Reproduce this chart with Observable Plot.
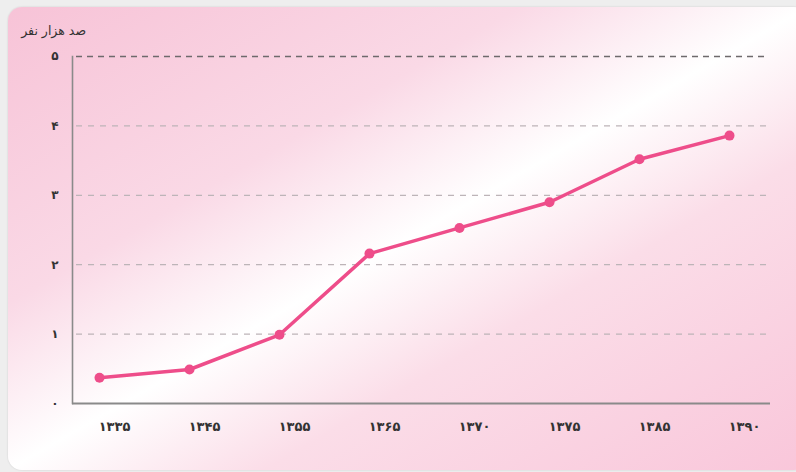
<!DOCTYPE html>
<html>
<head>
<meta charset="utf-8">
<script src="https://cdn.jsdelivr.net/npm/d3@7"></script>
<script src="https://cdn.jsdelivr.net/npm/@observablehq/plot@0.6"></script>
<style>
  html, body { margin: 0; padding: 0; background: #eeeeee; }
  #wrap { position: relative; width: 796px; height: 472px; overflow: hidden; }
  #card {
    position: absolute; left: 8px; top: 7px; width: 800px; height: 463px;
    border-radius: 14px;
    background: linear-gradient(to bottom right, #f7c3d7 0%, #fad9e6 32%, #ffffff 50%, #fbdde8 66%, #f9c6da 100%);
    box-shadow: 0 0 2px rgba(0,0,0,0.15);
  }
  #ylabel {
    position: absolute; left: 14px; top: 23px; width: 72px;
    direction: rtl; text-align: right;
    font-family: "DejaVu Sans", sans-serif; font-size: 12.5px; color: #333;
  }
  #chart { position: absolute; left: 0; top: 0; }
</style>
</head>
<body>
<div id="wrap">
  <div id="card"></div>
  <div id="ylabel">صد هزار نفر</div>
  <div id="chart"></div>
</div>
<script>
const years = ["1335", "1345", "1355", "1365", "1370", "1375", "1385", "1390"];
const yearLabels = ["۱۳۳۵", "۱۳۴۵", "۱۳۵۵", "۱۳۶۵", "۱۳۷۰", "۱۳۷۵", "۱۳۸۵", "۱۳۹۰"];
const population = [0.37, 0.49, 0.99, 2.16, 2.53, 2.90, 3.52, 3.86];
const yTicks = [0, 1, 2, 3, 4, 5];
const yTickLabels = ["۰", "۱", "۲", "۳", "۴", "۵"];

const data = years.map((y, i) => ({year: y, value: population[i]}));
const labelOf = new Map(years.map((y, i) => [y, yearLabels[i]]));
const yLabelOf = new Map(yTicks.map((t, i) => [t, yTickLabels[i]]));

const plot = Plot.plot({
  width: 796,
  height: 472,
  marginLeft: 72,
  marginRight: 26,
  marginTop: 56,
  marginBottom: 69,
  style: {background: "transparent", fontFamily: "DejaVu Sans, sans-serif"},
  x: {type: "point", domain: years, range: [97, 730], padding: 0},
  y: {domain: [0, 5], range: [403, 56]},
  marks: [
    Plot.ruleY([1, 2, 3, 4], {stroke: "#bdb4b8", strokeWidth: 1.2, strokeDasharray: "6,6", insetLeft: 4, insetRight: 4}),
    Plot.ruleY([5], {stroke: "#6e6a6c", strokeWidth: 1.3, strokeDasharray: "6,5", insetLeft: 4, insetRight: 4}),
    Plot.frame({anchor: "left", stroke: "#8a8a8a", strokeWidth: 1.6}),
    Plot.ruleY([0], {stroke: "#8a8a8a", strokeWidth: 1.8}),
    Plot.axisY({ticks: yTicks, tickSize: 0, tickPadding: 14, tickFormat: d => yLabelOf.get(d),
      fontSize: 12, fontWeight: "bold", fill: "#333", label: null}),
    Plot.axisX({tickSize: 0, tickPadding: 18, dx: 15, tickFormat: d => labelOf.get(d),
      fontSize: 13, fontWeight: "bold", fill: "#333", label: null}),
    Plot.line(data, {x: "year", y: "value", stroke: "#ee4d8a", strokeWidth: 3.5}),
    Plot.dot(data, {x: "year", y: "value", r: 5, fill: "#ee4d8a", stroke: "none"})
  ]
});
document.getElementById("chart").appendChild(plot);
</script>
</body>
</html>
